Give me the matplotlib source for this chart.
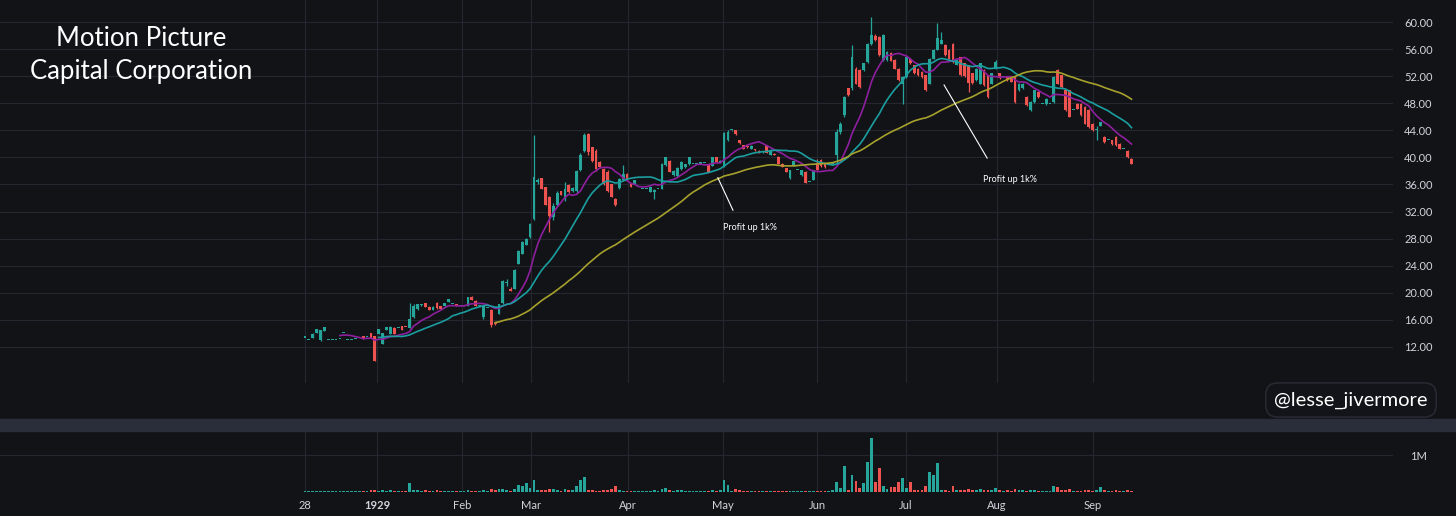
import matplotlib.pyplot as plt
import numpy as np
import pandas as pd
from matplotlib.patches import Rectangle

# daily bars, late Dec 1928 -> mid Sep 1929 (prices in $, volume in millions)
opens = [
    13.4, 13.1, 13.4, 14.05, 13.0, 14.4, 13.1, 13.1, 13.1, 13.2,
    14.0, 13.1, 13.1, 13.2, 13.3, 13.55, 13.5, 14.05, 13.55, 13.9,
    12.5, 14.5, 13.9, 14.85, 14.8, 15.05, 15.0, 14.85, 16.4, 17.6,
    18.2, 18.45, 17.95, 17.5, 18.5, 18.0, 18.0, 18.6, 18.3, 18.3,
    18.1, 18.0, 18.1, 19.45, 18.85, 18.0, 16.4, 17.8, 17.5, 15.6,
    16.9, 18.5, 21.5, 20.6, 20.6, 24.3, 25.8, 27.1, 28.2, 30.9,
    36.4, 36.9, 35.6, 34.2, 31.2, 33.0, 35.0, 34.0, 35.9, 35.0,
    35.0, 38.2, 41.0, 43.4, 41.5, 41.0, 39.3, 38.3, 37.8, 36.0,
    33.9, 35.5, 36.6, 37.6, 36.1, 36.1, 35.6, 35.4, 35.4, 34.9,
    34.9, 35.4, 35.4, 38.9, 39.5, 37.4, 37.2, 38.3, 38.6, 39.0,
    39.0, 39.0, 39.1, 39.2, 39.1, 38.8, 40.0, 39.3, 38.8, 42.5,
    44.0, 44.0, 42.5, 41.8, 41.6, 41.3, 41.2, 41.0, 40.8, 41.8,
    40.4, 40.5, 40.1, 39.1, 38.4, 36.9, 38.9, 38.1, 37.4, 37.9,
    36.4, 36.7, 39.2, 39.6, 39.1, 39.0, 39.0, 40.3, 43.7, 46.2,
    50.2, 50.2, 53.1, 52.9, 52.9, 54.1, 56.8, 58.0, 57.8, 54.4,
    54.4, 55.4, 54.4, 53.1, 50.9, 51.9, 54.6, 53.6, 53.1, 52.6,
    52.1, 50.9, 54.6, 55.9, 56.8, 56.6, 55.9, 56.8, 53.7, 54.8,
    53.9, 53.6, 52.4, 51.4, 50.9, 52.9, 52.1, 50.9, 53.1, 52.4,
    51.9, 51.9, 51.9, 51.9, 49.9, 50.2, 48.9, 47.0, 48.2, 49.7,
    47.9, 47.9, 47.9, 48.2, 52.9, 52.1, 49.9, 49.9, 47.0, 47.9,
    47.9, 47.5, 47.0, 45.0, 44.0, 44.7, 43.0, 42.5, 42.5, 43.0,
    42.0, 41.3, 41.0, 39.8,
]
highs = [
    13.4, 13.1, 14.0, 14.6, 14.55, 15.0, 13.1, 13.1, 13.1, 13.2,
    14.0, 13.1, 13.1, 13.2, 13.3, 13.6, 13.5, 14.1, 13.6, 14.6,
    14.05, 14.9, 15.05, 14.9, 14.8, 15.1, 15.0, 18.5, 18.3, 18.4,
    18.4, 18.5, 18.0, 18.0, 18.6, 18.0, 18.5, 19.1, 18.3, 18.3,
    18.1, 18.2, 19.4, 19.5, 18.9, 18.0, 18.1, 17.8, 17.6, 15.7,
    18.4, 21.9, 22.0, 20.8, 23.5, 26.3, 27.6, 28.1, 30.3, 43.3,
    36.9, 37.0, 35.7, 34.3, 33.2, 35.0, 35.1, 36.4, 36.0, 35.6,
    38.2, 40.6, 43.6, 43.6, 41.6, 41.3, 39.4, 38.4, 38.1, 36.1,
    34.0, 36.9, 38.9, 37.7, 36.2, 36.6, 35.6, 35.4, 35.4, 35.7,
    35.3, 35.4, 39.2, 40.1, 39.6, 38.1, 38.6, 39.4, 39.1, 40.1,
    39.0, 39.0, 39.1, 39.2, 39.2, 40.1, 40.1, 39.6, 43.8, 44.0,
    44.1, 44.1, 42.6, 41.9, 41.7, 41.8, 41.3, 41.1, 41.0, 41.9,
    41.2, 40.6, 40.2, 39.2, 38.5, 38.2, 39.5, 38.1, 38.2, 38.0,
    36.4, 38.2, 39.7, 39.8, 39.2, 39.0, 39.3, 44.2, 45.2, 49.0,
    50.3, 56.6, 53.3, 53.0, 54.0, 56.9, 60.7, 58.3, 57.9, 58.2,
    55.7, 55.5, 54.5, 53.2, 52.0, 55.0, 54.7, 53.7, 53.2, 52.7,
    52.2, 54.7, 56.0, 59.8, 58.5, 56.7, 56.0, 56.9, 54.5, 54.9,
    54.0, 53.7, 52.5, 53.2, 54.0, 53.0, 52.2, 52.5, 54.4, 52.5,
    51.9, 52.0, 52.0, 52.0, 51.0, 51.0, 49.0, 48.3, 50.0, 49.8,
    47.9, 48.8, 47.9, 52.0, 53.0, 52.2, 50.0, 50.0, 47.0, 48.0,
    48.0, 47.6, 47.1, 45.1, 44.7, 45.3, 43.1, 42.5, 42.6, 43.1,
    42.1, 41.3, 41.1, 39.9,
]
lows = [
    13.4, 13.1, 13.4, 14.05, 12.9, 14.4, 13.1, 13.1, 13.1, 13.2,
    14.0, 13.1, 13.1, 13.2, 13.3, 13.2, 13.5, 13.4, 9.9, 13.9,
    12.4, 14.5, 13.9, 13.9, 14.8, 14.5, 14.9, 14.8, 16.3, 17.5,
    18.1, 17.95, 17.4, 17.4, 17.6, 17.6, 18.0, 18.6, 18.3, 18.0,
    18.1, 18.0, 18.1, 19.0, 18.0, 18.0, 16.2, 17.8, 15.0, 15.3,
    16.8, 18.4, 21.0, 20.2, 20.5, 24.2, 25.7, 27.0, 28.1, 30.8,
    36.0, 35.3, 32.9, 29.0, 30.7, 32.8, 34.4, 33.6, 34.8, 34.9,
    34.8, 38.0, 40.8, 40.4, 39.3, 38.0, 38.6, 35.9, 34.9, 34.1,
    32.8, 35.4, 36.5, 36.6, 35.6, 36.0, 35.6, 35.4, 35.4, 34.9,
    33.9, 35.4, 35.3, 38.8, 37.9, 37.3, 37.1, 38.2, 38.5, 38.9,
    39.0, 39.0, 39.1, 39.2, 37.8, 38.7, 39.3, 39.2, 38.6, 42.4,
    43.9, 43.3, 42.0, 41.3, 41.4, 41.3, 41.0, 40.7, 40.7, 40.6,
    40.3, 40.3, 39.1, 38.6, 37.9, 36.8, 38.8, 38.1, 37.3, 36.2,
    36.4, 36.6, 38.1, 38.6, 38.5, 39.0, 38.9, 39.1, 43.5, 46.0,
    49.1, 50.0, 50.8, 50.3, 52.7, 53.9, 56.6, 57.2, 55.0, 54.3,
    54.3, 54.2, 53.0, 51.3, 47.9, 51.8, 53.8, 52.3, 52.0, 51.8,
    49.8, 50.8, 54.5, 55.8, 56.7, 55.0, 54.5, 54.0, 53.6, 52.0,
    51.9, 49.7, 50.9, 51.3, 50.8, 50.6, 48.8, 50.8, 53.0, 51.6,
    51.9, 51.3, 51.1, 48.1, 49.8, 50.1, 47.6, 46.9, 48.1, 48.8,
    47.9, 47.8, 47.9, 48.1, 50.8, 50.3, 46.9, 45.9, 47.0, 47.1,
    46.1, 44.9, 44.4, 43.9, 42.5, 44.6, 42.2, 42.5, 41.9, 41.7,
    41.2, 41.3, 39.9, 39.0,
]
closes = [
    13.4, 13.1, 13.95, 14.6, 14.5, 14.9, 13.1, 13.1, 13.1, 13.2,
    14.0, 13.1, 13.1, 13.2, 13.3, 13.2, 13.5, 13.4, 10.0, 14.6,
    14.0, 14.9, 15.0, 13.95, 14.8, 14.5, 14.9, 16.2, 18.1, 18.35,
    18.3, 17.95, 17.4, 17.9, 17.7, 17.6, 18.5, 19.1, 18.3, 18.0,
    18.1, 18.1, 19.35, 19.0, 18.0, 18.0, 18.0, 17.8, 15.2, 15.4,
    18.3, 21.8, 21.6, 20.2, 23.3, 26.2, 27.5, 28.0, 30.2, 37.1,
    36.6, 35.4, 33.0, 31.3, 32.8, 34.8, 34.4, 35.3, 34.9, 35.5,
    38.0, 40.4, 43.3, 40.8, 39.4, 38.3, 38.6, 36.0, 35.0, 34.2,
    33.0, 36.8, 37.6, 36.6, 35.6, 36.6, 35.6, 35.4, 35.4, 35.6,
    35.2, 35.4, 39.0, 40.0, 37.9, 38.0, 38.5, 39.3, 39.0, 40.0,
    39.0, 39.0, 39.1, 39.2, 37.9, 40.0, 39.3, 39.5, 43.6, 43.7,
    44.0, 43.4, 42.1, 41.3, 41.5, 41.7, 41.1, 40.8, 40.9, 40.6,
    41.0, 40.4, 39.1, 38.6, 37.9, 38.1, 39.4, 38.1, 38.1, 36.2,
    36.4, 38.1, 38.2, 38.7, 38.6, 39.0, 39.2, 43.8, 45.0, 48.9,
    49.2, 54.9, 50.9, 50.4, 53.9, 56.8, 58.1, 57.3, 55.1, 58.1,
    55.6, 54.3, 53.1, 51.4, 51.9, 54.9, 53.9, 52.4, 52.1, 51.9,
    49.9, 54.6, 55.9, 57.6, 57.4, 55.1, 54.6, 54.1, 54.4, 52.1,
    52.0, 51.0, 51.0, 53.1, 53.9, 50.7, 48.9, 52.4, 54.1, 51.7,
    51.9, 51.4, 51.2, 48.2, 50.9, 50.9, 47.7, 48.2, 49.9, 48.9,
    47.9, 48.7, 47.9, 51.9, 50.9, 50.4, 47.0, 46.0, 47.0, 47.2,
    46.2, 45.0, 44.5, 44.0, 44.2, 45.2, 42.3, 42.5, 42.0, 41.8,
    41.3, 41.3, 40.0, 39.1,
]
volumes = [
    0.02, 0.02, 0.04, 0.03, 0.03, 0.03, 0.02, 0.02, 0.02, 0.02,
    0.02, 0.02, 0.02, 0.02, 0.03, 0.04, 0.03, 0.05, 0.06, 0.04,
    0.05, 0.03, 0.05, 0.04, 0.02, 0.04, 0.03, 0.24, 0.06, 0.05,
    0.03, 0.05, 0.04, 0.04, 0.05, 0.03, 0.04, 0.04, 0.02, 0.04,
    0.02, 0.03, 0.05, 0.04, 0.04, 0.03, 0.06, 0.03, 0.07, 0.05,
    0.08, 0.08, 0.05, 0.04, 0.08, 0.20, 0.15, 0.24, 0.12, 0.33,
    0.06, 0.05, 0.06, 0.08, 0.07, 0.05, 0.04, 0.08, 0.05, 0.05,
    0.17, 0.33, 0.40, 0.05, 0.05, 0.04, 0.04, 0.06, 0.05, 0.08,
    0.17, 0.06, 0.04, 0.03, 0.03, 0.03, 0.02, 0.02, 0.03, 0.03,
    0.05, 0.03, 0.08, 0.10, 0.06, 0.04, 0.05, 0.06, 0.03, 0.04,
    0.03, 0.02, 0.02, 0.03, 0.04, 0.05, 0.04, 0.05, 0.33, 0.20,
    0.04, 0.08, 0.05, 0.04, 0.03, 0.03, 0.03, 0.03, 0.03, 0.04,
    0.04, 0.03, 0.04, 0.04, 0.04, 0.03, 0.03, 0.02, 0.04, 0.04,
    0.03, 0.04, 0.04, 0.04, 0.03, 0.03, 0.06, 0.27, 0.10, 0.70,
    0.05, 0.46, 0.31, 0.10, 0.24, 0.80, 1.47, 0.26, 0.64, 0.15,
    0.08, 0.13, 0.13, 0.26, 0.37, 0.12, 0.28, 0.05, 0.05, 0.06,
    0.15, 0.53, 0.46, 0.78, 0.06, 0.05, 0.04, 0.15, 0.05, 0.06,
    0.05, 0.07, 0.05, 0.06, 0.07, 0.05, 0.06, 0.06, 0.12, 0.05,
    0.03, 0.05, 0.04, 0.07, 0.05, 0.05, 0.04, 0.05, 0.05, 0.04,
    0.03, 0.04, 0.03, 0.15, 0.14, 0.06, 0.05, 0.07, 0.03, 0.04,
    0.04, 0.05, 0.05, 0.04, 0.05, 0.14, 0.05, 0.03, 0.04, 0.05,
    0.04, 0.03, 0.05, 0.04,
]

month_pos = [0, 18.6, 40.5, 58.2, 83.2, 107.7, 132, 154.9, 178.4, 203.1]
month_labels = ["28", "1929", "Feb", "Mar", "Apr", "May", "Jun", "Jul", "Aug", "Sep"]
price_ticks = [12, 16, 20, 24, 28, 32, 36, 40, 44, 48, 52, 56, 60]
ma_periods = [10, 20, 50]

# annotation lines: (start idx, start price, end idx, end price, text idx, text price)
notes = [(106.4, 37.0, 110.3, 32.2, 114.7, 29.7),
         (164.7, 50.7, 175.8, 39.9, 181.7, 36.7)]

BG = "#121317"
GRID = "#24272f"
UP = "#26a69a"
DOWN = "#ef5350"
TXT = "#d1d4dc"
ma_colors = ["#8e1f9e", "#1b9ea0", "#a6a12c"]

o = np.array(opens)
h = np.array(highs)
l = np.array(lows)
c = np.array(closes)
v = np.array(volumes)
idx = np.arange(len(c))
cols = np.where(c >= o, UP, DOWN)

W, H = 1456, 516
fig = plt.figure(figsize=(W / 100, H / 100), dpi=100, facecolor=BG)
ax = fig.add_axes([0, 1 - 383 / H, 1393 / W, 383 / H], facecolor=BG)
axv = fig.add_axes([0, 1 - 492 / H, 1393 / W, 61 / H], facecolor=BG, sharex=ax)

# separator between panes
fig.patches.append(Rectangle((0, 1 - 431 / H), 1, 12 / H, transform=fig.transFigure,
                             color="#2a2e3a", zorder=0))

# candles
ax.vlines(idx, l, h, colors=cols, lw=0.9, zorder=2)
ax.bar(idx, np.maximum(np.abs(c - o), 0.15), bottom=np.minimum(o, c),
       width=0.72, color=cols, linewidth=0, zorder=2)

# moving averages
s = pd.Series(c)
for n, col in zip(ma_periods, ma_colors):
    ax.plot(idx, s.rolling(n).mean(), color=col, lw=1.2, zorder=3)

for x0, y0, x1, y1, tx, ty in notes:
    ax.plot([x0, x1], [y0, y1], color="white", lw=0.8, zorder=4)
    ax.text(tx, ty, "Profit up 1k%", color="white", fontsize=6.5, family="Lato",
            ha="center", va="center", zorder=4)

ax.set_xlim(-78.6, 280.4)
ax.set_ylim(6.68, 63.25)
ax.set_xticks(month_pos)
ax.set_yticks(price_ticks)
ax.set_yticklabels([f"{p:.2f}" for p in price_ticks])
ax.yaxis.tick_right()
ax.tick_params(axis="y", length=0, pad=8, labelcolor=TXT, labelsize=8)
ax.tick_params(axis="x", length=0, labelbottom=False)
ax.grid(True, color=GRID, lw=0.8)
ax.set_axisbelow(True)

# volume
axv.bar(idx, v, width=0.72, color=cols, linewidth=0)
axv.set_ylim(0, 1.65)
axv.set_yticks([1.0])
axv.set_yticklabels(["1M"])
axv.yaxis.tick_right()
axv.tick_params(axis="y", length=0, pad=12, labelcolor=TXT, labelsize=8)
axv.set_xticks(month_pos)
axv.set_xticklabels(month_labels)
axv.tick_params(axis="x", length=0, pad=6, labelcolor=TXT, labelsize=8)
for t in axv.get_xticklabels():
    if t.get_text() == "1929":
        t.set_fontweight("bold")
axv.grid(True, color=GRID, lw=0.8)
axv.set_axisbelow(True)

for a in (ax, axv):
    for sp in a.spines.values():
        sp.set_visible(False)
    for t in a.get_xticklabels() + a.get_yticklabels():
        t.set_family("Lato")

fig.text(141 / W, 1 - 38 / H, "Motion Picture", color="white", fontsize=18.5,
         family="Lato", ha="center", va="center")
fig.text(141 / W, 1 - 72 / H, "Capital Corporation", color="white", fontsize=18.5,
         family="Lato", ha="center", va="center")

fig.text(1351 / W, 1 - 400 / H, "@lesse_jivermore", color="white", fontsize=14.5,
         family="Lato", ha="center", va="center",
         bbox=dict(boxstyle="round,pad=0.42,rounding_size=0.6", facecolor="#131419",
                   edgecolor="#2a2d36", lw=1))

fig.savefig("out.png", dpi=100, facecolor=BG)
plt.close(fig)
